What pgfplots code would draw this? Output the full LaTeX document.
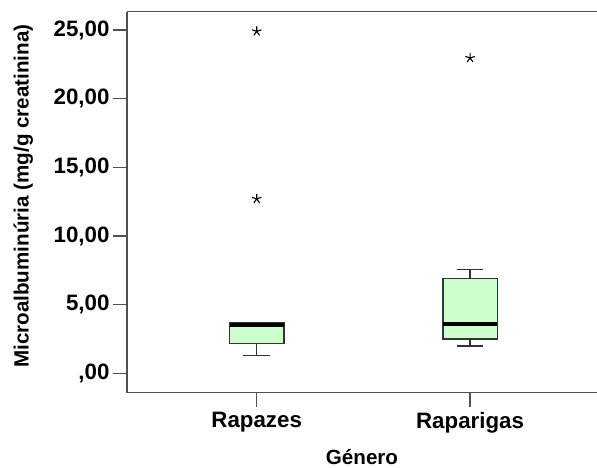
\documentclass[border=0pt]{standalone}
\usepackage{fontspec}
\setmainfont{Liberation Sans}
\usepackage{pgfplots}
\usepgfplotslibrary{statistics}
\pgfplotsset{compat=1.18}
\definecolor{boxfill}{HTML}{CCFFCC}
\definecolor{axgray}{HTML}{505050}
\begin{document}
\begin{tikzpicture}
\path[use as bounding box] (0,0) rectangle (597pt,468pt);
\begin{axis}[
  at={(127pt,75.3pt)}, anchor=south west,
  scale only axis, width=470pt, height=381pt,
  xmin=0.392, xmax=2.595, ymin=-1.41, ymax=26.33,
  axis x line=box, axis y line=left,
  axis line style={-, draw=axgray, line width=1.6pt},
  xtick pos=bottom, ytick pos=left,
  tick align=outside, major tick length=14pt,
  every tick/.style={draw=axgray, line width=1.4pt},
  xtick={1,2}, xticklabels={Rapazes,Raparigas},
  ytick={0,5,10,15,20,25},
  yticklabels={{,00},{5,00},{10,00},{15,00},{20,00},{25,00}},
  tick label style={font=\fontsize{22.3}{24}\selectfont\bfseries},
  xticklabel style={yshift=-2pt},
  xlabel={Género},
  ylabel={Microalbuminúria (mg/g creatinina)},
  label style={font=\fontsize{20.6}{22}\selectfont\bfseries},
  xlabel style={at={(axis description cs:0.5,-0.1885)}, anchor=base, inner sep=0pt},
  ylabel style={at={(axis description cs:-0.221,0.516)}, anchor=center},
  clip=false,
  boxplot/draw direction=y,
  boxplot/every median/.style={draw=black, line width=3.8pt},
]
\addplot[boxplot prepared={draw position=1, lower whisker=1.28, lower quartile=2.19,
    median=3.50, upper quartile=3.66, upper whisker=3.66,
    box extend=0.255, whisker extend=0.125},
  draw=black!80, fill=boxfill, line width=1.3pt] coordinates {};
\addplot[boxplot prepared={draw position=2, lower whisker=1.99, lower quartile=2.50,
    median=3.59, upper quartile=6.92, upper whisker=7.58,
    box extend=0.255, whisker extend=0.125},
  draw=black!80, fill=boxfill, line width=1.3pt] coordinates {};
\addplot[only marks, mark=star, mark size=5pt, mark options={line width=1.1pt, draw=black}]
  coordinates {(1,24.9) (1,12.7) (2,22.96)};
\end{axis}
\end{tikzpicture}
\end{document}
